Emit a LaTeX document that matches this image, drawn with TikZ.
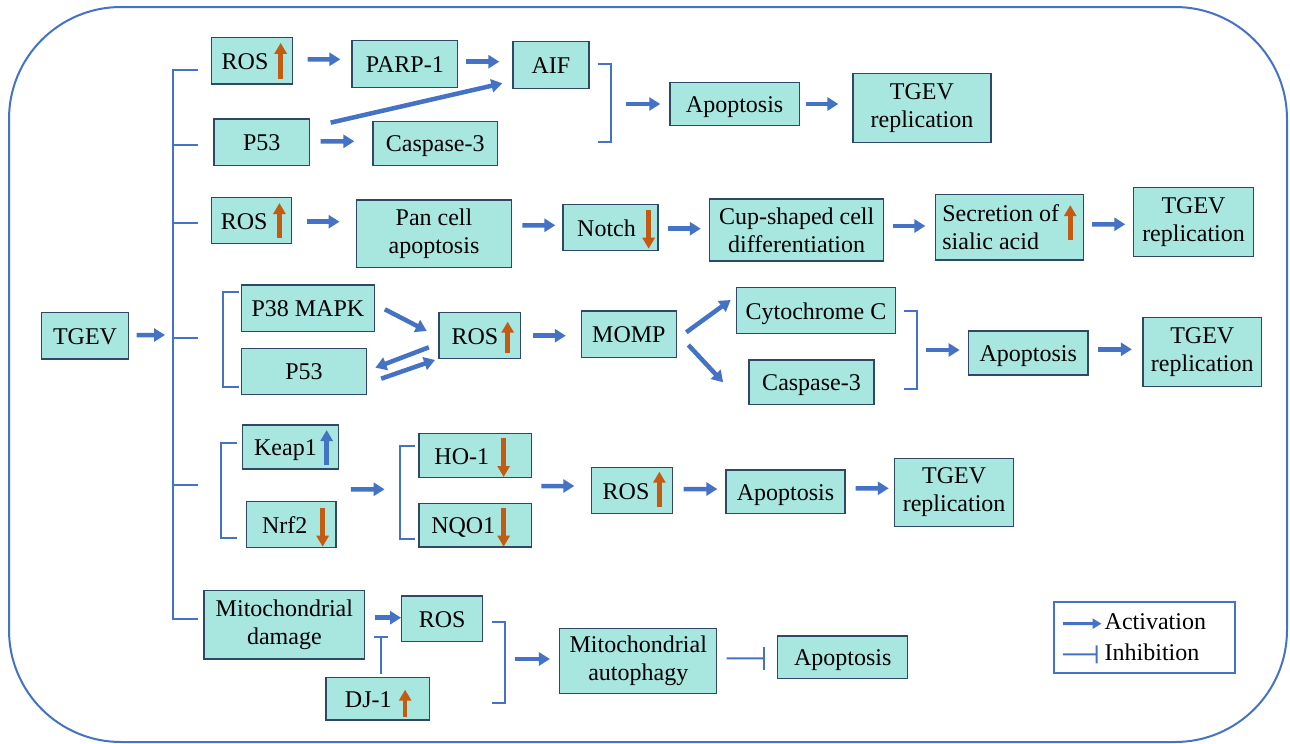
\documentclass[tikz,border=0pt]{standalone}
\usepackage{fontspec}
\setmainfont{Liberation Serif}
\usetikzlibrary{arrows.meta,calc}
\definecolor{bl}{RGB}{68,114,196}
\definecolor{fillc}{RGB}{168,230,224}
\definecolor{edgec}{RGB}{47,72,102}
\definecolor{org}{RGB}{197,90,17}
\tikzset{
 box/.style={draw=edgec, line width=1.3pt, fill=fillc, inner sep=0pt, font=\rmfamily\fontsize{24}{28}\selectfont},
 one/.style={text height=19pt, text depth=2pt},
 two/.style={align=center},
 act/.style={draw=bl, line width=4.5pt, -{Triangle[length=11pt,width=13pt]}},
 brk/.style={draw=bl, line width=2pt},
 oup/.style={draw=org, line width=4.5pt, -{Triangle[length=11pt,width=12pt]}},
 bup/.style={draw=bl, line width=4.5pt, -{Triangle[length=11pt,width=12pt]}},
 inh/.style={draw=bl, line width=2pt},
 leg/.style={inner sep=0pt, anchor=west, font=\rmfamily\fontsize{24}{28}\selectfont, text height=16pt, text depth=5pt},
}
\newcommand\bx[7][]{\node[box,#1,minimum width={#4-#2},minimum height={#5-#3}] (#6) at ({(#2+#4)/2},{(#3+#5)/2}) {#7};}
\begin{document}
\begin{tikzpicture}[x=1pt,y=-1pt]
\useasboundingbox (0,0) rectangle (1290,744);
\fill[white] (0,0) rectangle (1290,744);
\draw[bl, line width=2pt, rounded corners=112pt] (9,7) rectangle (1287,742);

% boxes row 1
\bx[one]{211.6}{37.7}{292.5}{84}{ros1}{ROS\hspace*{14pt}}
\bx[one]{352}{40.7}{457.7}{87.3}{parp}{PARP-1}
\bx[one]{513}{41.7}{589}{88.3}{aif}{AIF}
\bx[one]{214}{119}{309.5}{165.3}{p53a}{P53}
\bx[one]{373}{121.3}{497.5}{165.3}{casp1}{Caspase-3}
\bx[one]{669.9}{82.7}{799.3}{125.3}{apop1}{Apoptosis}
\bx[two]{852.9}{73.3}{991}{142.7}{tgev1}{TGEV\\replication}
% row 2
\bx[one]{211.6}{197.3}{291.7}{243.7}{ros2}{ROS\hspace*{15pt}}
\bx[two]{356.4}{200}{511.6}{267.7}{pan}{Pan cell\\apoptosis}
\bx[one]{563}{204.7}{658}{250.7}{notch}{Notch\hspace*{8pt}}
\bx[two]{709.7}{199}{883.6}{261}{cup}{Cup-shaped cell\\differentiation}
\bx[align=left]{935.8}{194.3}{1083.6}{260}{secr}{Secretion of\hspace*{18pt}\\sialic acid}
\bx[two]{1133.8}{187.7}{1253.3}{256.7}{tgev2}{TGEV\\replication}
% row 3
\bx[one]{41.5}{312.7}{128.6}{359}{tgev0}{TGEV}
\bx[one]{241.5}{285}{374.3}{331.7}{p38}{P38 MAPK}
\bx[one]{241.5}{348.3}{366.4}{394.3}{p53b}{P53}
\bx[one]{439}{312.7}{520.7}{358.7}{ros3}{ROS\hspace*{10pt}}
\bx[one]{581.3}{311}{676.5}{357.3}{momp}{MOMP}
\bx[one]{736.3}{287.7}{895.6}{333.7}{cytc}{Cytochrome C}
\bx[one]{749.1}{360}{874}{404.3}{casp3}{Caspase-3}
\bx[one]{968.6}{331}{1088}{375}{apop3}{Apoptosis}
\bx[two]{1142.9}{317.7}{1261.6}{386.3}{tgev3}{TGEV\\replication}
% row 4
\bx[one]{242.3}{425}{338.6}{469}{keap}{Keap1\hspace*{10pt}}
\bx[one]{246.5}{501.7}{336}{547.7}{nrf}{Nrf2\hspace*{13pt}}
\bx[one]{419}{433.7}{531.5}{477.3}{ho}{HO-1\hspace*{27pt}}
\bx[one]{419}{503.7}{531.5}{547}{nqo}{NQO1\hspace*{24pt}}
\bx[one]{591.7}{467.7}{672.4}{513.7}{ros4}{ROS\hspace*{12pt}}
\bx[one]{725.9}{470}{845}{513.7}{apop4}{Apoptosis}
\bx[two]{894.8}{458.3}{1013.4}{526.7}{tgev4}{TGEV\\replication}
% row 5
\bx[two]{204.1}{590.7}{364.7}{659}{mito}{Mitochondrial\\damage}
\bx[one]{401.7}{596}{482.6}{641.7}{ros5}{ROS}
\bx[one]{326.1}{677.3}{429.5}{720}{dj}{DJ-1\hspace*{19pt}}
\bx[two]{559.8}{628.3}{716.8}{693.7}{auto}{Mitochondrial\\autophagy}
\bx[one]{777.8}{636}{907.6}{678.7}{apop5}{Apoptosis}

% up / down markers
\draw[oup] (ros1.east) ++(-12.5,18) -- ++(0,-36);
\draw[oup] (ros2.east) ++(-12.9,17.5) -- ++(0,-35);
\draw[oup] (notch.east) ++(-10,-18) -- ++(0,39);
\draw[oup] (secr.east) ++(-14,13) -- ++(0,-35);
\draw[oup] (ros3.east) ++(-13.7,17) -- ++(0,-31);
\draw[bup] (keap.east) ++(-12.6,18) -- ++(0,-35);
\draw[oup] (nrf.east) ++(-14,-16.7) -- ++(0,38.7);
\draw[oup] (ho.east) ++(-28.5,-17.5) -- ++(0,39);
\draw[oup] (nqo.east) ++(-28.5,-17.4) -- ++(0,38.7);
\draw[oup] (ros4.east) ++(-13.7,16.3) -- ++(0,-35.3);
\draw[oup] (dj.east) ++(-25,18) -- ++(0,-27);

% trunk and brackets
\draw[brk] (197.5,70) -| (172.6,619) -- (197.5,619);
\foreach \yy in {145,223.3,338.3,485} \draw[brk] (172.6,\yy) -- (197.5,\yy);
\coordinate (trunk) at (172.6,338.3);
\draw[brk] (597.5,64) -- (610.8,64) -- (610.8,142) -- (597.5,142);
\coordinate (br1) at (610.8,104);
\draw[brk] (238.6,292.3) -- (223.2,292.3) -- (223.2,387.3) -- (238.6,387.3);
\draw[brk] (904.3,310.7) -- (917.2,310.7) -- (917.2,388.7) -- (904.3,388.7);
\coordinate (br3) at (917.2,350);
\draw[brk] (236.5,442.7) -- (220.7,442.7) -- (220.7,537.7) -- (236.5,537.7);
\draw[brk] (415,445.7) -- (400.4,445.7) -- (400.4,539.3) -- (415,539.3);
\coordinate (hob) at (400.4,489.3);
\draw[brk] (491.7,622.3) -- (504.6,622.3) -- (504.6,702.7) -- (491.7,702.7);
\coordinate (br5) at (504.6,662.5);
\coordinate (kn) at ($(keap.south east)!0.5!(nrf.north east)$);
\coordinate (hq) at ($(ho.south east)!0.5!(nqo.north east)$);

% activation arrows
\draw[act] ([shift={(14.5,-1.55)}]ros1.east) -- ([shift={(-11,-4.7)}]parp.west);
\draw[act] ([shift={(7.9,-2.3)}]parp.east) -- ([shift={(-13,-3.3)}]aif.west);
\draw[act] ([shift={(20.5,4.3)}]p53a.north east) -- ([shift={(-10,18.3)}]aif.west);
\draw[act] ([shift={(10.5,-0.85)}]p53a.east) -- ([shift={(-18,-2)}]casp1.west);
\draw[act] ([xshift=15pt]br1) -- ([xshift=-9pt]apop1.west);
\draw[act] ([shift={(5.7,0)}]apop1.east) -- ([shift={(-13.9,-4)}]tgev1.west);
\draw[act] ([shift={(14.5,1.2)}]ros2.east) -- ([shift={(-16.2,-12.15)}]pan.west);
\draw[act] ([shift={(10,-8.55)}]pan.east) -- ([shift={(-7,-2.4)}]notch.west);
\draw[act] ([shift={(9,1)}]notch.east) -- ([shift={(-8.3,-1.3)}]cup.west);
\draw[act] ([shift={(8.4,-4)}]cup.east) -- ([shift={(-9.8,-1.15)}]secr.west);
\draw[act] ([shift={(7.9,-2.85)}]secr.east) -- ([shift={(-7.9,2.1)}]tgev2.west);
\draw[act] ([shift={(7.4,-0.85)}]tgev0.east) -- ([shift={(-7.6,-3.3)}]trunk);
\draw[act] ([shift={(9.9,0.95)}]p38.east) -- ([shift={(-11.6,-4.7)}]ros3.west);
\draw[act] ([shift={(-9.5,11.6)}]ros3.west) -- ([shift={(8.3,-3.6)}]p53b.east);
\draw[act] ([shift={(14.1,7.4)}]p53b.east) -- ([shift={(-3.3,0.6)}]ros3.south west);
\draw[act] ([shift={(11.7,0)}]ros3.east) -- ([shift={(-14.9,1.55)}]momp.west);
\draw[act] ([shift={(9.1,-1.85)}]momp.east) -- ([shift={(-5,-10.7)}]cytc.west);
\draw[act] ([shift={(11.2,10.85)}]momp.east) -- ([shift={(-25.3,0.15)}]casp3.west);
\draw[act] ([xshift=9pt]br3) -- ([shift={(-8.3,-3)}]apop3.west);
\draw[act] ([shift={(9.3,-3.7)}]apop3.east) -- ([shift={(-10.4,-2.7)}]tgev3.west);
\draw[act] ([shift={(12.9,3.95)}]kn) -- ([xshift=-15.8pt]hob);
\draw[act] ([shift={(9.2,-4.5)}]hq) -- ([shift={(-16.7,-4.7)}]ros4.west);
\draw[act] ([shift={(10.6,-1.7)}]ros4.east) -- ([shift={(-7.9,-2.85)}]apop4.west);
\draw[act] ([shift={(10,-3.55)}]apop4.east) -- ([shift={(-5.4,-4.2)}]tgev4.west);
\draw[act] ([shift={(10,-7.15)}]mito.east) -- ([shift={(0,-1.15)}]ros5.west);
\draw[act] ([shift={(10.4,-3.5)}]br5) -- ([shift={(-9.2,-2)}]auto.west);

% inhibition
\draw[inh, -{Bar[width=23pt]}] ([shift={(9.1,-2.7)}]auto.east) -- ([shift={(-12.5,0.95)}]apop5.west);
\coordinate (djt) at (380.5,636);
\draw[inh, -{Bar[width=14pt]}] ([shift={(2.7,-3)}]dj.north) -- (djt);

% legend
\node[draw=bl, line width=2pt, minimum width=181.7pt, minimum height=71.3pt, inner sep=0pt] (legbox) at (1144.55,637.65) {};
\node[leg] (tact) at (1104.5,623.7) {Activation};
\node[leg] (tinh) at (1104.5,655) {Inhibition};
\draw[draw=bl, line width=3pt, -{Triangle[length=9pt,width=10pt]}] ([shift={(10.3,-14)}]legbox.west) -- ([xshift=-3pt]tact.west);
\draw[inh, -{Bar[width=18pt]}] ([shift={(10.3,16.7)}]legbox.west) -- ([shift={(-7,-0.7)}]tinh.west);
\end{tikzpicture}
\end{document}
